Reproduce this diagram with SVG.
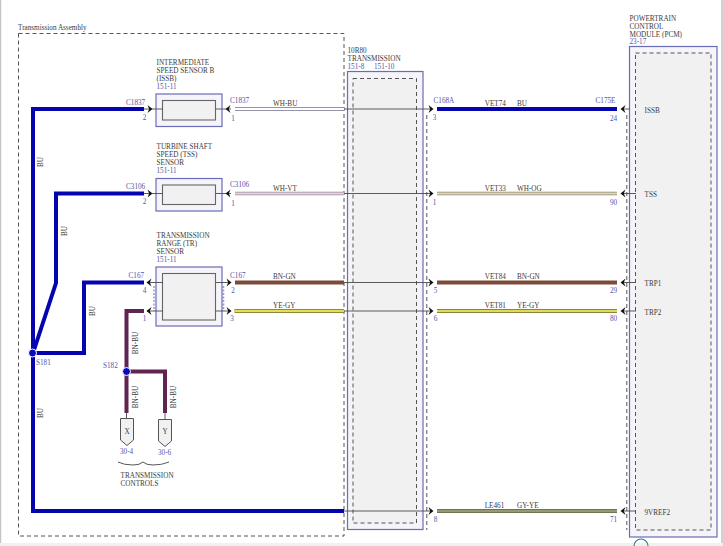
<svg xmlns="http://www.w3.org/2000/svg" xmlns:xlink="http://www.w3.org/1999/xlink" width="723" height="546" viewBox="0 0 723 546">
<style>
text{font-family:"Liberation Serif","Times New Roman",serif;font-size:7.2px;fill:#3a3a3a}
.r{fill:#5454a8}
.c{text-anchor:middle}
.box{fill:#f4f4fa;stroke:#6c6cb4;stroke-width:1.2}
.in{fill:#f1f1f1;stroke:#666;stroke-width:1.1}
.dash{fill:none;stroke:#555;stroke-width:1;stroke-dasharray:4 3}
.w{fill:none;stroke-width:4}
.bu{stroke:#0505b0}
.pu{stroke:#5f2450}
.t{fill:none;stroke:#4a4a4a;stroke-width:.9}
.dot{fill:#0808c0;stroke:#fff;stroke-width:1}
.edge{fill:#f1f1f1;stroke:none}
</style>
<defs>
<path id="ar" d="M-4.5,-4 L0.5,0 L-4.5,4 L-2.8,0 Z" fill="#111"/>
</defs>
<rect width="723" height="546" fill="#fff"/>
<g id="page-edges">
<rect class="edge" x="0" y="543" width="723" height="3"/>
<rect x="0" y="0" width="1.2" height="543" fill="#c4c4c4"/>
<rect x="721" y="0" width="2" height="543" fill="#d0d0d0"/>
<path d="M634,546 A7,7 0 0 1 648,546" fill="none" stroke="#2a7f9a" stroke-width="1.2"/>
</g>
<g id="transmission-assembly">
<rect class="dash" x="18.5" y="33.5" width="325.5" height="502.5"/>
<text x="18" y="30">Transmission Assembly</text>
</g>
<g id="transmission-10r80">
<rect class="box" x="347.5" y="71.5" width="75.5" height="458"/>
<rect class="in" x="353" y="78.5" width="63.5" height="444.5" style="stroke:none"/>
<rect class="dash" x="353" y="78.5" width="63.5" height="444.5"/>
<path class="dash" d="M426.8,115V530"/>
<text x="347.5" y="52.5">10R80</text>
<text x="347.5" y="61">TRANSMISSION</text>
<text class="r" x="347.5" y="69">151-8</text>
<text class="r" x="374" y="69">151-10</text>
</g>
<g id="pcm">
<rect class="box" x="629.5" y="46.5" width="87.5" height="490.5"/>
<rect class="in" x="635.5" y="53" width="75.5" height="477" style="stroke:none"/>
<rect class="dash" x="635.5" y="53" width="75.5" height="477"/>
<path class="dash" d="M626.8,115V530"/>
<text x="629.5" y="21">POWERTRAIN</text>
<text x="629.5" y="29">CONTROL</text>
<text x="629.5" y="36.500">MODULE (PCM)</text>
<text class="r" x="629.5" y="44">23-17</text>
<text x="644.500" y="113">ISSB</text>
<text x="644.500" y="197">TSS</text>
<text x="644.500" y="286">TRP1</text>
<text x="644.500" y="315">TRP2</text>
<text x="644.500" y="515">9VREF2</text>
</g>
<g id="issb">
<rect class="box" x="156" y="94" width="66" height="32.500"/>
<rect class="in" x="162.500" y="100.500" width="53" height="19.500"/>
<text x="156.500" y="65">INTERMEDIATE</text>
<text x="156.500" y="73">SPEED SENSOR B</text>
<text x="156.500" y="81">(ISSB)</text>
<text class="r" x="156.500" y="89">151-11</text>
</g>
<g id="tss">
<rect class="box" x="156" y="178.500" width="66" height="32.500"/>
<rect class="in" x="162.500" y="185" width="53" height="19.500"/>
<text x="156.500" y="149">TURBINE SHAFT</text>
<text x="156.500" y="157">SPEED (TSS)</text>
<text x="156.500" y="165">SENSOR</text>
<text class="r" x="156.500" y="173">151-11</text>
</g>
<g id="tr">
<path d="M154,286V311M223.500,286V311" fill="none" stroke="#9a9ac8" stroke-width="1.5" stroke-dasharray="2 1.500"/>
<rect class="box" x="156" y="267" width="66" height="59"/>
<rect class="in" x="162.500" y="273.500" width="53" height="46.500"/>
<text x="156.500" y="238">TRANSMISSION</text>
<text x="156.500" y="246">RANGE (TR)</text>
<text x="156.500" y="254">SENSOR</text>
<text class="r" x="156.500" y="262">151-11</text>
</g>
<g id="connectors">
<path class="w bu" d="M144,109H33V511H344"/>
<path class="w bu" d="M144,193.500H56V283L33,353"/>
<path class="w bu" d="M33,353H84V282.500H144"/>
<path class="w pu" d="M144,311H126.500V413"/>
<path class="w pu" d="M126.500,371.500H165V413"/>
<path class="t" d="M126.500,413V419M165,413V419"/>
<path d="M235,109H344" fill="none" stroke="#70708c" stroke-width="3.600"/>
<path d="M235,109H344" fill="none" stroke="#fff" stroke-width="2"/>
<path d="M235,193.500H344" fill="none" stroke="#9a8a9a" stroke-width="3.400"/>
<path d="M235,193.500H344" fill="none" stroke="#e6d2e2" stroke-width="2.200"/>
<path d="M235,282.500H344" fill="none" stroke="#7b4a38" stroke-width="4"/>
<path d="M234.500,311H344" fill="none" stroke="#8a8a3c" stroke-width="3.800"/>
<path d="M234.500,311H344" fill="none" stroke="#e8dc55" stroke-width="2.200"/>
<path class="w bu" d="M437,109H617"/>
<path d="M437,193.500H617" fill="none" stroke="#8c8672" stroke-width="3.400"/>
<path d="M437,193.500H617" fill="none" stroke="#e4d6b8" stroke-width="2"/>
<path d="M437,282.500H617" fill="none" stroke="#7b4a38" stroke-width="4"/>
<path d="M437,311H617" fill="none" stroke="#86863a" stroke-width="3.800"/>
<path d="M437,311H617" fill="none" stroke="#e4d85a" stroke-width="2.200"/>
<path d="M437,511H617" fill="none" stroke="#6e7350" stroke-width="4"/>
<path d="M437,511H617" fill="none" stroke="#a4a67c" stroke-width="1.500"/>
<path class="t" d="M144,109H162.500M215.500,109H231M344,109H432M622,109H630"/>
<path class="t" d="M144,193.500H162.500M215.500,193.500H231M344,193.500H432M622,193.500H636"/>
<path class="t" d="M147,282.500H162.500M215.500,282.500H231M344,282.500H432M622,282.500H636"/>
<path class="t" d="M147,311H162.500M215.500,311H231M344,311H432M622,311H636"/>
<path class="t" d="M344,511H432M622,511H636"/>
<use xlink:href="#ar" transform="translate(152,109)"/>
<use xlink:href="#ar" transform="translate(152,193.500)"/>
<use xlink:href="#ar" transform="translate(226,109) scale(-1,1)"/>
<use xlink:href="#ar" transform="translate(226,193.500) scale(-1,1)"/>
<use xlink:href="#ar" transform="translate(147,282.500) scale(-1,1)"/>
<use xlink:href="#ar" transform="translate(147,311) scale(-1,1)"/>
<use xlink:href="#ar" transform="translate(231,282.500)"/>
<use xlink:href="#ar" transform="translate(231,311)"/>
<use xlink:href="#ar" transform="translate(433,109)"/>
<use xlink:href="#ar" transform="translate(433,193.500)"/>
<use xlink:href="#ar" transform="translate(433,282.500)"/>
<use xlink:href="#ar" transform="translate(433,311)"/>
<use xlink:href="#ar" transform="translate(433,511)"/>
<use xlink:href="#ar" transform="translate(621,109) scale(-1,1)"/>
<use xlink:href="#ar" transform="translate(621,193.500) scale(-1,1)"/>
<use xlink:href="#ar" transform="translate(621,282.500) scale(-1,1)"/>
<use xlink:href="#ar" transform="translate(621,311) scale(-1,1)"/>
<use xlink:href="#ar" transform="translate(621,511) scale(-1,1)"/>
<text x="273" y="106">WH-BU</text>
<text x="273" y="191">WH-VT</text>
<text x="273" y="279">BN-GN</text>
<text x="273" y="308">YE-GY</text>
<text x="484.700" y="106">VET74</text><text x="517" y="106">BU</text>
<text x="484.700" y="191">VET33</text><text x="517" y="191">WH-OG</text>
<text x="484.700" y="279">VET84</text><text x="517" y="279">BN-GN</text>
<text x="484.700" y="308">VET81</text><text x="517" y="308">YE-GY</text>
<text x="484.700" y="508">LE461</text><text x="517" y="508">GY-YE</text>
<text class="r" x="126" y="105">C1837</text>
<text class="r" x="230" y="103">C1837</text>
<text class="r" x="126" y="189">C3106</text>
<text class="r" x="230" y="187">C3106</text>
<text class="r" x="128.500" y="278">C167</text>
<text class="r" x="230" y="278">C167</text>
<text class="r" x="433.500" y="103">C168A</text>
<text class="r" x="595.500" y="103">C175E</text>
<text class="r c" x="144.500" y="120">2</text><text class="r c" x="233" y="121">1</text>
<text class="r c" x="144.500" y="204">2</text><text class="r c" x="233" y="206">1</text>
<text class="r c" x="144.500" y="293">4</text><text class="r c" x="233" y="293">2</text>
<text class="r c" x="144.500" y="321">1</text><text class="r c" x="232" y="321">3</text>
<text class="r c" x="434.500" y="120">3</text><text class="r c" x="613.500" y="121">24</text>
<text class="r c" x="434.500" y="205">1</text><text class="r c" x="613.500" y="205">90</text>
<text class="r c" x="435.500" y="293">5</text><text class="r c" x="613.500" y="293">29</text>
<text class="r c" x="435.500" y="321">6</text><text class="r c" x="613.500" y="321">80</text>
<text class="r c" x="435.500" y="522">8</text><text class="r c" x="613.500" y="522">71</text>
<text class="c" transform="translate(43,162) rotate(-90)">BU</text>
<text class="c" transform="translate(67,231) rotate(-90)">BU</text>
<text class="c" transform="translate(95,311) rotate(-90)">BU</text>
<text class="c" transform="translate(43,413) rotate(-90)">BU</text>
<text class="c" transform="translate(138,343) rotate(-90)">BN-BU</text>
<text class="c" transform="translate(138,397) rotate(-90)">BN-BU</text>
<text class="c" transform="translate(176,397) rotate(-90)">BN-BU</text>
</g>
<g id="s181">
<circle class="dot" cx="32.500" cy="353" r="4"/>
<text class="r" x="36" y="365">S181</text>
</g>
<g id="s182">
<circle class="dot" cx="126.500" cy="371.500" r="4"/>
<text class="r" x="103" y="368">S182</text>
</g>
<g id="connector-x">
<path d="M120.500,418.500H133.500V440L127,445.500L120.500,440Z" fill="#f1f1f1" stroke="#555" stroke-width="1"/>
<text class="c" x="127" y="433.500">X</text>
<text class="r" x="120" y="454">30-4</text>
</g>
<g id="connector-y">
<path d="M158.500,419.500H171.500V441L165,446.500L158.500,441Z" fill="#f1f1f1" stroke="#555" stroke-width="1"/>
<text class="c" x="165" y="433.500">Y</text>
<text class="r" x="158" y="455">30-6</text>
</g>
<g id="transmission-controls">
<path d="M118,462 Q124,465 133,465 Q140,465 143,462 Q146,465 153,465 Q162,465 169,462" fill="none" stroke="#444" stroke-width=".9"/>
<text x="120.500" y="478">TRANSMISSION</text>
<text x="120.500" y="486">CONTROLS</text>
</g>
</svg>
